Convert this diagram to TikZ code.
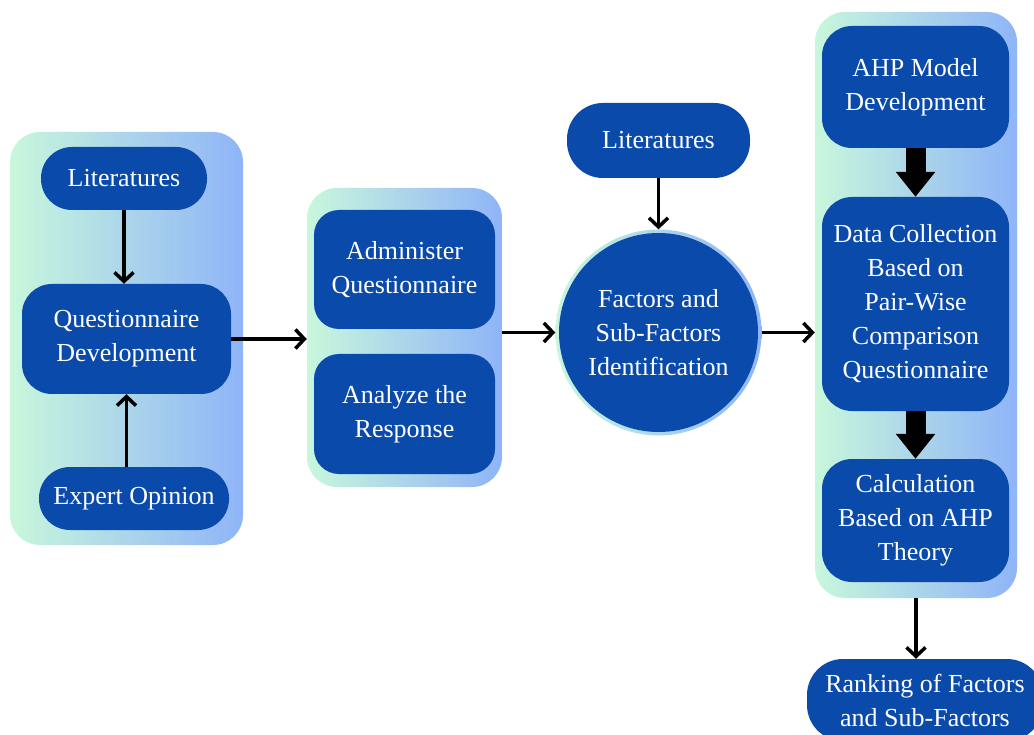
\documentclass[tikz,border=0pt]{standalone}
\usepackage{fontspec}
\setmainfont{Liberation Serif}
\usetikzlibrary{arrows.meta,calc}
\definecolor{dk}{HTML}{0A4AAB}
\definecolor{gl}{HTML}{C8F7DC}
\definecolor{gr}{HTML}{8FB4F8}
\tikzset{
  grp/.style={draw=none,left color=gl,right color=gr,rounded corners=30pt},
  box/.style={draw=none,fill=dk,text=white,align=center,rounded corners=#1,
    font=\fontsize{26}{34}\selectfont,inner sep=0pt},
  arr/.style={line width=3.5pt,-{Straight Barb[length=9pt,width=19pt]}},
  bigarr/.style={line width=20pt,-{Triangle[length=25pt,width=38pt]}}
}
\begin{document}
\begin{tikzpicture}[x=1pt,y=-1pt]
\useasboundingbox (0,0) rectangle (1034,735);
\clip (0,0) rectangle (1034,735);
% groups
\node[grp,minimum width=233pt,minimum height=413pt] (g1) at (126.5,338.5) {};
\node[grp,minimum width=195pt,minimum height=299pt] (g2) at (404.5,337.5) {};
\node[grp,minimum width=202pt,minimum height=586pt] (g3) at (916,305) {};
% left group
\node[box=31pt,minimum width=166pt,minimum height=63pt] (lit1) at (124,178.5) {Literatures};
\node[box=30pt,minimum width=209pt,minimum height=110pt] (qd) at (126.5,339) {Questionnaire\\Development};
\node[box=31pt,minimum width=190pt,minimum height=63pt] (exp) at (134,498.5) {Expert Opinion};
% middle group
\node[box=25pt,minimum width=181pt,minimum height=119pt] (adm) at (404.5,269.5) {Administer\\Questionnaire};
\node[box=25pt,minimum width=181pt,minimum height=120pt] (ana) at (404.5,414) {Analyze the\\Response};
% circle
\node[circle,minimum size=206pt,left color=gl,right color=gr,draw=none] (ring) at (658.5,332.5) {};
\node[circle,minimum size=199pt,fill=dk,text=white,align=center,inner sep=0pt,
  font=\fontsize{26}{34}\selectfont] (fac) at (658.5,332.5) {Factors and\\Sub-Factors\\Identification};
\node[box=36pt,minimum width=183pt,minimum height=75pt] (lit2) at (658.5,140.5) {Literatures};
% right group
\node[box=30pt,minimum width=187pt,minimum height=122pt] (ahp) at (915.5,87) {AHP Model\\Development};
\node[box=30pt,minimum width=187pt,minimum height=214pt] (dc) at (915.5,304) {Data Collection\\Based on\\Pair-Wise\\Comparison\\Questionnaire};
\node[box=30pt,minimum width=187pt,minimum height=123pt] (calc) at (915.5,520.5) {Calculation\\Based on AHP\\Theory};
\node[box=36pt,minimum width=236pt,minimum height=82pt] (rank) at (925,700) {Ranking of Factors\\and Sub-Factors};
% connectors
\draw[arr] (lit1.south) -- (lit1.south |- qd.north);
\draw[arr] (qd.south |- exp.north) -- (qd.south);
\draw[arr] (qd.east) -- (qd.east -| g2.west);
\draw[arr] (g2.east |- ring.west) -- (ring.west);
\draw[arr] (lit2.south) -- (ring.north);
\draw[arr] (ring.east) -- (ring.east -| g3.west);
\draw[bigarr] (ahp.south) -- (dc.north);
\draw[bigarr] (dc.south) -- (calc.north);
\draw[arr] (g3.south) -- (g3.south |- rank.north);
\end{tikzpicture}
\end{document}
